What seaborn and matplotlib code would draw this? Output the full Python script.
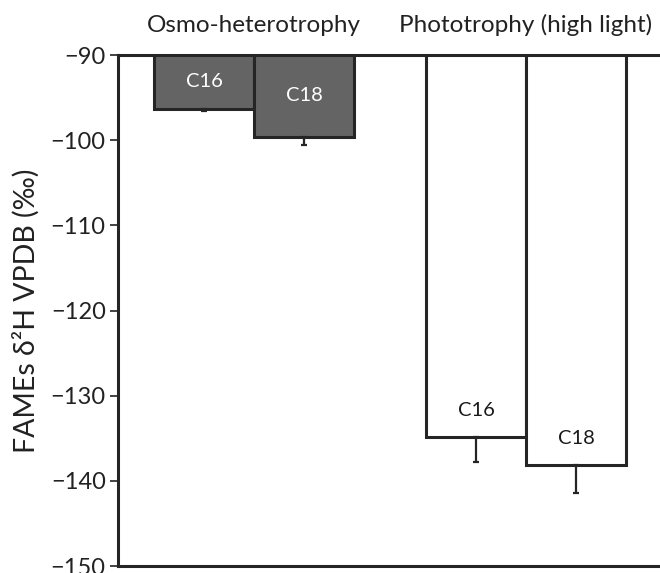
import pandas as pd
import numpy as np
import matplotlib
matplotlib.use('Agg')
import matplotlib.pyplot as plt
import seaborn as sns

# Dados
condicoes = ['Osmo-heterotrophy', 'Osmo-heterotrophy', 'Phototrophy (high light)', 'Phototrophy (high light)']
acidos = ['C16', 'C18', 'C16', 'C18']
valores = [-96.3, -99.6, -134.8, -138.1]
erros = [0.3, 1.0, 3.0, 3.3]

BASE = -90
sns.set_style('white')
plt.rcParams['font.family'] = ['Lato', 'DejaVu Sans']

df = pd.DataFrame({'condicao': condicoes, 'acido': acidos, 'valor': valores, 'erro': erros})

fig = plt.figure(figsize=(6.6, 5.73), dpi=100)
ax = fig.add_axes([0.179, 0.0122, 0.824, 0.8918])

# cor de preenchimento por condição
cor_cond = {'Osmo-heterotrophy': '#646464', 'Phototrophy (high light)': 'white'}
sns.barplot(data=df, x='condicao', y='valor', hue='acido', palette=['#646464', '#646464'],
            edgecolor='#252525', linewidth=2.2, width=0.735,
            legend=False, ax=ax, errorbar=None)

# barras começam em 0 -> recortadas no topo em -90
barras = [p for p in ax.patches if p.get_height() != 0]
barras.sort(key=lambda p: p.get_x())
for p, (_, row) in zip(barras, df.iterrows()):
    p.set_facecolor(cor_cond[row['condicao']])
    xc = p.get_x() + p.get_width() / 2
    ax.errorbar(xc, row['valor'], yerr=[[row['erro']], [0]], fmt='none',
                ecolor='#252525', elinewidth=1.6, capsize=2.5, capthick=1.6, zorder=1)
    altura = BASE - row['valor']
    if altura < 15:
        ytxt = (BASE + row['valor']) / 2
    else:
        ytxt = row['valor'] + 3.1
    cor_txt = 'white' if row['condicao'].startswith('Osmo') else '#1a1a1a'
    ax.text(xc, ytxt, row['acido'], ha='center', va='center', fontsize=14.5, color=cor_txt)

ax.set_ylim(-150, -90)
ax.set_xlim(-0.5, 1.5)
ax.set_yticks(np.arange(-150, -89, 10))
ax.set_yticklabels([f'\u2212{abs(t)}' for t in range(-150, -89, 10)], fontsize=17, color='#222222')
ax.xaxis.tick_top()
ax.tick_params(axis='x', length=0, labelsize=17.5, pad=13.5, colors='#222222')
ax.tick_params(axis='y', direction='out', length=6, width=1.2, left=True, pad=3, colors='#222222')
ax.set_xlabel('')
ax.set_ylabel('FAMEs \u03b4\u00b2H VPDB (\u2030)', fontsize=20.5, color='#222222', labelpad=8)

for lado in ['top', 'bottom', 'left']:
    ax.spines[lado].set_linewidth(2.2)
    ax.spines[lado].set_color('#252525')
ax.spines['right'].set_visible(False)

fig.savefig('out.png', dpi=100)
